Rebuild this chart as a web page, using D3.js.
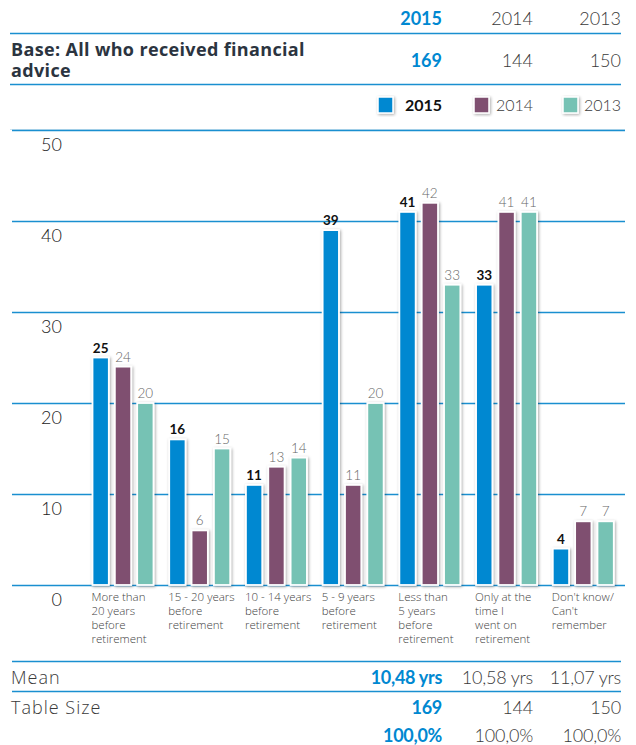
<!DOCTYPE html>
<html>
<head>
<meta charset="utf-8">
<script src="https://cdn.jsdelivr.net/npm/d3@7"></script>
<style>
  html, body { margin: 0; padding: 0; background: #fff; }
  svg { display: block; font-family: "Open Sans", "Lato", sans-serif; }
  .num { font-family: "Lato", "Open Sans", sans-serif; }
</style>
</head>
<body>
<svg id="chart" width="636" height="745"></svg>
<script>
// Survey: timing of financial advice relative to retirement (% of respondents)
const years = ["2015", "2014", "2013"];
const categories = [
  ["More than", "20 years", "before", "retirement"],
  ["15 - 20 years", "before", "retirement"],
  ["10 - 14 years", "before", "retirement"],
  ["5 - 9 years", "before", "retirement"],
  ["Less than", "5 years", "before", "retirement"],
  ["Only at the", "time I", "went on", "retirement"],
  ["Don't know/", "Can't", "remember"]
];
const values2015 = [25, 16, 11, 39, 41, 33, 4];
const values2014 = [24, 6, 13, 11, 42, 41, 7];
const values2013 = [20, 15, 14, 20, 33, 41, 7];
const yTicks = [0, 10, 20, 30, 40, 50];
const baseCounts = ["169", "144", "150"];
const meanLabels = ["10,48 yrs", "10,58 yrs", "11,07 yrs"];
const tableSize = ["169", "144", "150"];
const totals = ["100,0%", "100,0%", "100,0%"];
const colors = ["#0088d1", "#7f5070", "#76c2b4"];

const series = [values2015, values2014, values2013];
const rule = "#1a8fd0";
const svg = d3.select("#chart");

const defs = svg.append("defs");
const f = defs.append("filter").attr("id", "shadow")
  .attr("x", "-40%").attr("y", "-10%").attr("width", "180%").attr("height", "130%");
f.append("feDropShadow").attr("dx", 1).attr("dy", 1).attr("stdDeviation", 1.6)
  .attr("flood-color", "#000").attr("flood-opacity", 0.35);

// Column positions of the year table (right edges)
const colX = d3.scaleOrdinal().domain(years).range([442, 533, 621]);

// --- header table ---
years.forEach((yr, i) => {
  svg.append("text").attr("class", "num").attr("x", colX(yr)).attr("y", 25).attr("text-anchor", "end")
    .attr("font-size", 18).attr("font-weight", i === 0 ? 700 : 300)
    .attr("fill", i === 0 ? "#0088d1" : "#3a3a3a").text(yr);
  svg.append("text").attr("class", "num").attr("x", colX(yr)).attr("y", 67).attr("text-anchor", "end")
    .attr("font-size", 18).attr("font-weight", i === 0 ? 700 : 300)
    .attr("fill", i === 0 ? "#0088d1" : "#3a3a3a").text(baseCounts[i]);
});
svg.append("line").attr("x1", 10).attr("x2", 621).attr("y1", 33.5).attr("y2", 33.5)
  .attr("stroke", rule).attr("stroke-width", 1.5);
const baseTitle = svg.append("text").attr("y", 56).attr("font-size", 18)
  .attr("font-weight", 700).attr("fill", "#2b3440").attr("letter-spacing", 0.35);
["Base: All who received financial", "advice"].forEach((t, i) => {
  baseTitle.append("tspan").attr("x", 11).attr("dy", i === 0 ? 0 : 21).text(t);
});
svg.append("line").attr("x1", 10).attr("x2", 621).attr("y1", 84.5).attr("y2", 84.5)
  .attr("stroke", rule).attr("stroke-width", 1.5);

// --- legend ---
const legendSw = [378, 474, 563];
years.forEach((yr, i) => {
  svg.append("rect").attr("x", legendSw[i]).attr("y", 97).attr("width", 15).attr("height", 16)
    .attr("fill", colors[i]).attr("stroke", "#fff").attr("stroke-width", 1.5)
    .attr("filter", "url(#shadow)");
  svg.append("text").attr("class", "num").attr("x", colX(yr)).attr("y", 111).attr("text-anchor", "end")
    .attr("font-size", 16).attr("font-weight", i === 0 ? 700 : 300)
    .attr("fill", i === 0 ? "#111" : "#3a3a3a").text(yr);
});
svg.append("line").attr("x1", 10).attr("x2", 625).attr("y1", 129.5).attr("y2", 129.5)
  .attr("stroke", "#cfe3ef").attr("stroke-width", 1);

// --- chart ---
const y = d3.scaleLinear().domain([0, 50]).range([585, 130]);
const x0 = d3.scaleBand().domain(d3.range(categories.length)).range([81.5, 618.5]).paddingInner(0).paddingOuter(0);
const x1 = d3.scaleBand().domain(d3.range(3)).range([11, 72]).paddingInner(0.27).paddingOuter(0);

// gridlines with labels sitting below each line
const grid = svg.append("g");
yTicks.forEach(t => {
  grid.append("line").attr("x1", 12).attr("x2", 625).attr("y1", y(t) + 0.5).attr("y2", y(t) + 0.5)
    .attr("stroke", rule).attr("stroke-width", 1.5);
  grid.append("text").attr("class", "num").attr("x", 62).attr("y", y(t) + 21).attr("text-anchor", "end")
    .attr("font-size", 18).attr("font-weight", 300).attr("fill", "#222").text(t);
});

const groups = svg.append("g").selectAll("g").data(categories).join("g")
  .attr("transform", (d, i) => `translate(${x0(i)},0)`);

groups.each(function(cat, ci) {
  const g = d3.select(this);
  series.forEach((vals, si) => {
    const v = vals[ci];
    g.append("rect").attr("x", x1(si)).attr("width", x1.bandwidth())
      .attr("y", y(v)).attr("height", y(0) - y(v))
      .attr("fill", colors[si]).attr("stroke", "#fff").attr("stroke-width", 1.8)
      .attr("filter", "url(#shadow)");
    g.append("text").attr("class", "num").attr("x", x1(si) + x1.bandwidth() / 2).attr("y", y(v) - 5)
      .attr("text-anchor", "middle").attr("font-size", 13.5)
      .attr("font-weight", si === 0 ? 700 : 300)
      .attr("fill", si === 0 ? "#111" : "#666").text(v);
  });
  const lbl = g.append("text").attr("x", x1(0) - 1).attr("y", 601)
    .attr("font-size", 11.5).attr("font-weight", 300).attr("fill", "#444");
  cat.forEach((line, li) => {
    lbl.append("tspan").attr("x", x1(0) - 1).attr("dy", li === 0 ? 0 : 14).text(line);
  });
});

// --- footer table ---
svg.append("line").attr("x1", 12).attr("x2", 621).attr("y1", 661.5).attr("y2", 661.5)
  .attr("stroke", rule).attr("stroke-width", 1.5);
svg.append("line").attr("x1", 12).attr("x2", 621).attr("y1", 691.5).attr("y2", 691.5)
  .attr("stroke", rule).attr("stroke-width", 1.5);
const rows = [["Mean", meanLabels, 684], ["Table Size", tableSize, 714], ["", totals, 742]];
rows.forEach(([name, vals, yy]) => {
  svg.append("text").attr("x", 11).attr("y", yy).attr("font-size", 18)
    .attr("font-weight", 300).attr("letter-spacing", 1).attr("fill", "#3a3a3a").text(name);
  years.forEach((yr, i) => {
    svg.append("text").attr("class", "num").attr("x", colX(yr)).attr("y", yy).attr("text-anchor", "end")
      .attr("font-size", 18).attr("font-weight", i === 0 ? 700 : 300)
      .attr("letter-spacing", i === 0 ? -0.3 : -0.2)
      .attr("fill", i === 0 ? "#0088d1" : "#3a3a3a").text(vals[i]);
  });
});
</script>
</body>
</html>
